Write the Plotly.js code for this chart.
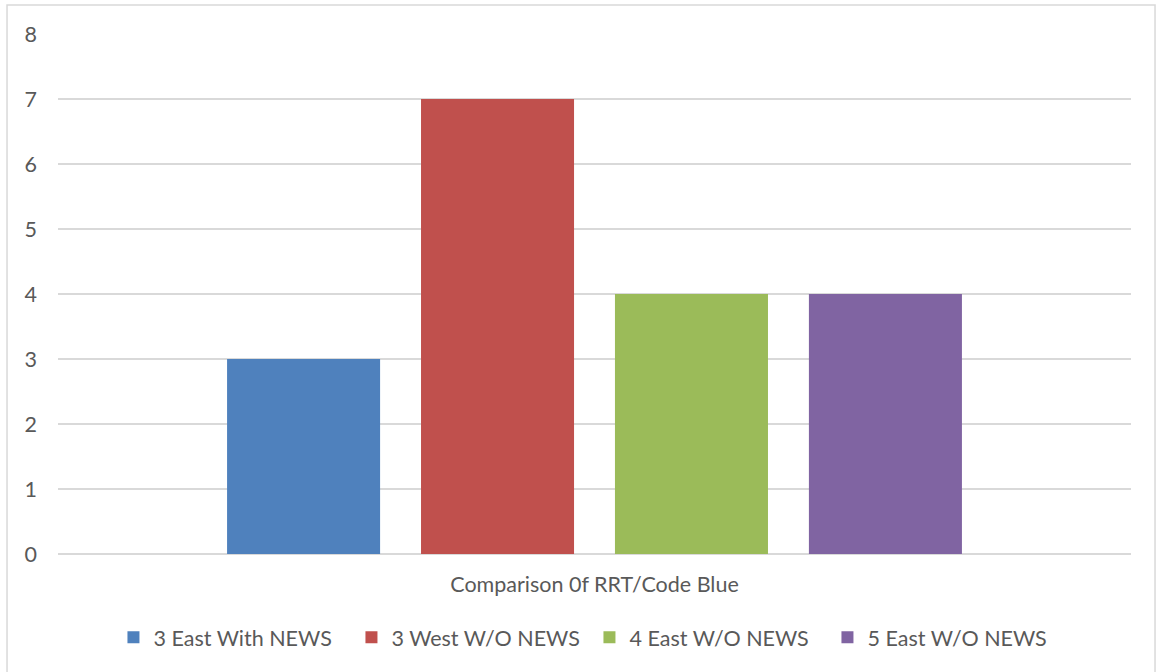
<!DOCTYPE html>
<html>
<head>
<meta charset="utf-8">
<script src="https://cdn.plot.ly/plotly-3.0.1.min.js"></script>
<style>
html,body{margin:0;padding:0;background:#fff;}
#chart{width:1157px;height:672px;}
</style>
</head>
<body>
<div id="chart"></div>
<script>
const categories = ["Comparison 0f RRT/Code Blue"];
const seriesNames = ["3 East With NEWS", "3 West W/O NEWS", "4 East W/O NEWS", "5 East W/O NEWS"];
const seriesValues = [[3], [7], [4], [4]];
const seriesColors = ["#4F81BD", "#C0504D", "#9BBB59", "#8064A2"];
const yTicks = [0, 1, 2, 3, 4, 5, 6, 7, 8];

const fontFam = "Lato, 'Open Sans', sans-serif";
const textColor = "#595959";
const fs = 21.5;

const traces = seriesNames.map((name, i) => ({
  type: "bar",
  name: name,
  x: categories,
  y: seriesValues[i],
  marker: {color: seriesColors[i]},
  hoverinfo: "none"
}));

const layout = {
  width: 1157,
  height: 672,
  margin: {l: 58, r: 26, t: 34, b: 118},
  paper_bgcolor: "#ffffff",
  plot_bgcolor: "#ffffff",
  barmode: "group",
  bargap: 0.277,
  bargroupgap: 0.211,
  font: {family: fontFam, color: textColor, size: fs},
  showlegend: true,
  legend: {
    orientation: "h",
    x: 0.4953, xanchor: "center",
    y: -0.16, yanchor: "middle",
    font: {family: fontFam, size: fs, color: textColor},
    itemwidth: 30,
    entrywidth: 193,
    entrywidthmode: "pixels",
    tracegroupgap: 0,
    traceorder: "normal"
  },
  xaxis: {
    type: "category",
    range: [-0.5, 0.5],
    showticklabels: false,
    showgrid: false,
    showline: false,
    ticks: "",
    title: {text: categories[0], font: {family: fontFam, size: fs, color: textColor}, standoff: 22}
  },
  yaxis: {
    range: [0, 8],
    tickvals: yTicks,
    ticktext: yTicks.map(String),
    showgrid: true,
    gridcolor: "#d9d9d9",
    gridwidth: 1.5,
    zeroline: true,
    zerolinecolor: "#d9d9d9",
    zerolinewidth: 1.5,
    showline: false,
    ticks: "",
    ticklabelstandoff: 20,
    tickfont: {family: fontFam, size: fs, color: textColor}
  },
  shapes: [{
    type: "rect", xref: "paper", yref: "paper",
    x0: -0.0475, x1: 1.0224, y0: -0.25, y1: 1.0558,
    line: {color: "#d9d9d9", width: 1.5},
    fillcolor: "rgba(0,0,0,0)",
    layer: "below"
  }]
};

Plotly.newPlot("chart", traces, layout, {displayModeBar: false, staticPlot: true});
</script>
</body>
</html>
